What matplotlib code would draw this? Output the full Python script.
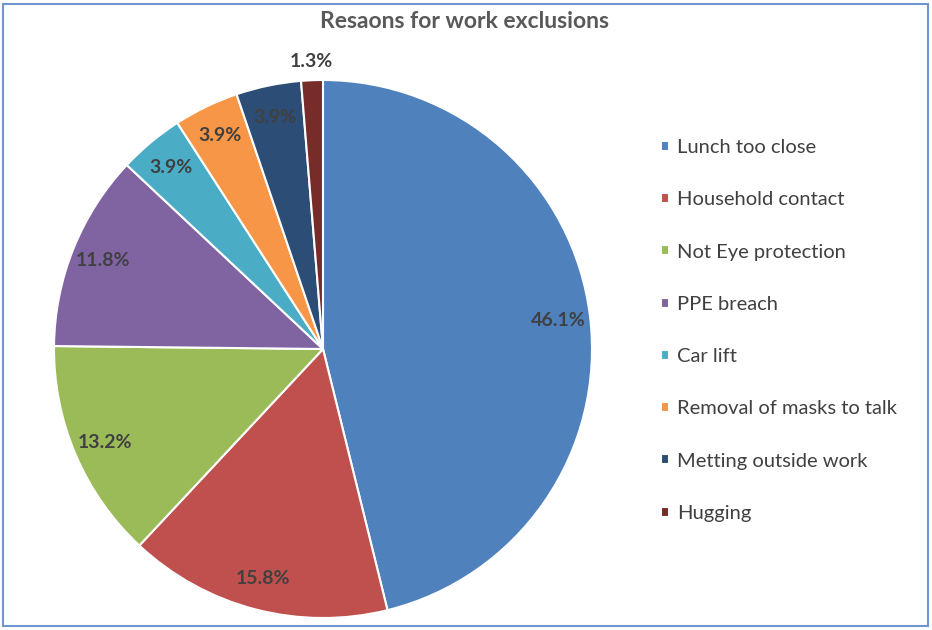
import matplotlib
matplotlib.use("Agg")
import matplotlib.pyplot as plt
from matplotlib.patches import Rectangle
import numpy as np

categories = ["Lunch too close", "Household contact", "Not Eye protection", "PPE breach",
              "Car lift", "Removal of masks to talk", "Metting outside work", "Hugging"]
values = [46.1, 15.8, 13.2, 11.8, 3.9, 3.9, 3.9, 1.3]
labels = ["46.1%", "15.8%", "13.2%", "11.8%", "3.9%", "3.9%", "3.9%", "1.3%"]
colors = ["#4F81BD", "#C0504D", "#9BBB59", "#8064A2", "#4BACC6", "#F79646", "#2C4D75", "#772C2A"]
title = "Resaons for work exclusions"

plt.rcParams['font.family'] = ['Lato', 'DejaVu Sans']

W, H = 932, 630
fig = plt.figure(figsize=(W / 100, H / 100), dpi=100)

# frame
fig.patches.append(Rectangle((3 / W, 4 / H), 925 / W, 622 / H, transform=fig.transFigure,
                             fill=False, edgecolor="#6F95CF", linewidth=1.5))

cx, cy, R = 323, 349, 269
ax = fig.add_axes([(cx - R) / W, (H - cy - R) / H, 2 * R / W, 2 * R / H])
wedges, _ = ax.pie(values, colors=colors, startangle=90, counterclock=False, radius=1,
                   wedgeprops=dict(edgecolor="white", linewidth=1.5))
ax.set_xlim(-1, 1)
ax.set_ylim(-1, 1)
ax.set_aspect("equal")
ax.axis("off")

total = sum(values)
cum = 0
for v, lab in zip(values, labels):
    mid = 90 - (cum + v / 2) / total * 360
    cum += v
    d = 0.88 if v > 2 else 1.07
    x = d * np.cos(np.radians(mid))
    y = d * np.sin(np.radians(mid))
    ax.text(x, y, lab, ha="center", va="center", fontsize=14, fontweight="bold",
            color="#404040")

fig.text(465 / W, 1 - 21 / H, title, ha="center", va="center", fontsize=16.5,
         fontweight="bold", color="#595959")

leg = fig.legend(wedges, categories, loc="upper left", bbox_to_anchor=(643 / W, 1 - 121 / H),
                 frameon=False, fontsize=14.5, handlelength=0.4, handleheight=0.4,
                 handletextpad=0.4, labelspacing=1.75, labelcolor="#404040")

fig.savefig("out.png", dpi=100)
